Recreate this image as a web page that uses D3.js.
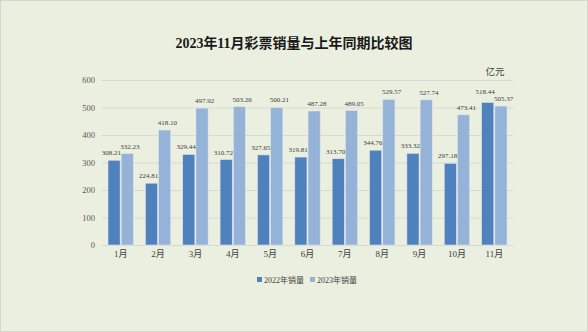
<!DOCTYPE html>
<html>
<head>
<meta charset="utf-8">
<script src="https://cdn.jsdelivr.net/npm/d3@7"></script>
<style>
  html, body { margin: 0; padding: 0; background: #ebefdf; }
  svg { display: block; }
  text { font-family: "Liberation Serif", "Noto Sans CJK SC", serif; }
</style>
</head>
<body>
<svg id="chart" width="588" height="332"></svg>
<script>
// Monthly lottery sales (亿元), 2022 vs 2023
const months = ["1月", "2月", "3月", "4月", "5月", "6月", "7月", "8月", "9月", "10月", "11月"];
const series = ["2022年销量", "2023年销量"];
const sales2022 = [308.21, 224.81, 329.44, 310.72, 327.65, 319.81, 313.70, 344.76, 333.32, 297.18, 518.44];
const sales2023 = [332.23, 418.10, 497.92, 503.26, 500.21, 487.28, 489.05, 529.57, 527.74, 473.41, 505.37];
const yTicks = [0, 100, 200, 300, 400, 500, 600];
const colors = ["#4f81bd", "#95b3d7"];

(function () {
  const values = [sales2022, sales2023];
  const svg = d3.select("#chart");
  const W = 588, H = 332;

  // background with thin frame
  svg.append("rect").attr("x", 0.5).attr("y", 0.5).attr("width", W - 1).attr("height", H - 1)
    .attr("fill", "#ebefdf").attr("stroke", "#d4d6d0");

  svg.append("text").attr("x", 294).attr("y", 48).attr("text-anchor", "middle")
    .attr("font-size", 14).attr("font-weight", "bold").attr("fill", "#1a1a1a")
    .text("2023年11月彩票销量与上年同期比较图");

  const plotL = 102, plotR = 513, plotT = 80, plotB = 245;
  const y = d3.scaleLinear().domain([0, 600]).range([plotB, plotT]);
  const x0 = d3.scaleBand().domain(months).range([plotL, plotR]).paddingInner(0.32).paddingOuter(0.16);
  const x1 = d3.scaleBand().domain(series).range([0, x0.bandwidth()]).paddingInner(0.08);

  // gridlines
  svg.append("g").selectAll("line").data(yTicks).join("line")
    .attr("x1", plotL).attr("x2", plotR)
    .attr("y1", d => y(d) + 0.5).attr("y2", d => y(d) + 0.5)
    .attr("stroke", "#d6d9d3").attr("stroke-width", 1);

  // y axis labels
  const yAxis = d3.axisLeft(y).tickValues(yTicks).tickSize(0).tickPadding(0);
  const gy = svg.append("g").attr("transform", `translate(${plotL - 7},0)`).call(yAxis);
  gy.select(".domain").remove();
  gy.selectAll("text").attr("font-size", 8.5).attr("fill", "#595959")
    .attr("font-family", "Liberation Serif, serif");

  // x axis labels
  const xAxis = d3.axisBottom(x0).tickSize(0).tickPadding(0);
  const gx = svg.append("g").attr("transform", `translate(0,${plotB + 6})`).call(xAxis);
  gx.select(".domain").remove();
  gx.selectAll("text").attr("font-size", 9).attr("fill", "#404040")
    .attr("font-family", "Liberation Serif, Noto Sans CJK SC, serif");

  // bars
  const rows = months.map((m, i) => ({ m, vals: series.map((s, k) => ({ s, k, v: values[k][i] })) }));
  const groups = svg.append("g").selectAll("g").data(rows).join("g")
    .attr("transform", d => `translate(${x0(d.m)},0)`);

  groups.selectAll("rect").data(d => d.vals).join("rect")
    .attr("x", d => x1(d.s))
    .attr("y", d => y(d.v))
    .attr("width", x1.bandwidth())
    .attr("height", d => y(0) - y(d.v))
    .attr("fill", d => colors[d.k])
    .attr("stroke", "#dfe6ef").attr("stroke-width", 0.6);

  // value labels: nudged apart horizontally; a label that would collide
  // with its neighbour's label is lifted above it
  const labelY = rows => {
    const ys = rows.vals.map(d => y(d.v) - 5);
    if (Math.abs(ys[0] - ys[1]) < 6.5) {
      const hi = ys[0] <= ys[1] ? 0 : 1, lo = 1 - hi;
      ys[hi] = ys[lo] - 6.6;
    }
    return ys;
  };
  groups.each(function (row) {
    const ys = labelY(row);
    d3.select(this).selectAll("text.val").data(row.vals).join("text")
      .attr("class", "val")
      .attr("x", d => x1(d.s) + x1.bandwidth() / 2 + (d.k === 0 ? -2.7 : 2.7))
      .attr("y", d => ys[d.k])
      .attr("text-anchor", "middle")
      .attr("font-size", 7).attr("fill", "#404040")
      .text(d => d.v.toFixed(2));
  });

  // unit label
  svg.append("text").attr("x", 495).attr("y", 75).attr("text-anchor", "middle")
    .attr("font-size", 9.5).attr("fill", "#404040").text("亿元");

  // legend
  const legend = svg.append("g").attr("transform", "translate(257,280)");
  const lx = [0, 53];
  series.forEach((s, k) => {
    const g = legend.append("g").attr("transform", `translate(${lx[k]},0)`);
    g.append("rect").attr("x", 0).attr("y", -3).attr("width", 5).attr("height", 5).attr("fill", colors[k]);
    g.append("text").attr("x", 7).attr("y", 3).attr("font-size", 8).attr("fill", "#404040").text(s);
  });
})();
</script>
</body>
</html>
